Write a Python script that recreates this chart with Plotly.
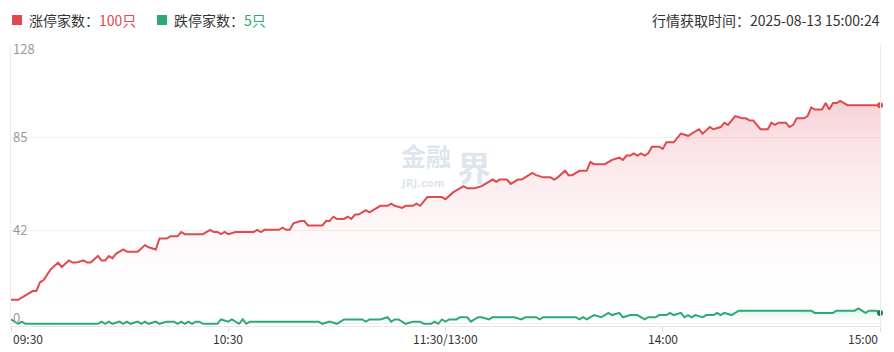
import plotly.graph_objects as go

# ---------------- data (minutes since 09:30 on the trading clock, 0..240) ----------------
red_minute = [0, 2, 4, 6, 7, 8, 9, 11, 13, 14,
              16, 17, 18, 20, 21, 22, 24, 25, 26, 27,
              28, 29, 31, 32, 33, 35, 37, 38, 40, 41,
              43, 44, 46, 47, 48, 53, 55, 56, 57, 58,
              59, 60, 62, 67, 68, 69, 70, 74, 75, 76,
              77, 78, 80, 81, 82, 86, 87, 88, 89, 90,
              92, 93, 94, 95, 96, 98, 99, 101, 102, 104,
              105, 106, 108, 109, 111, 112, 113, 115, 119, 120,
              122, 123, 125, 126, 128, 130, 131, 133, 134, 135,
              137, 138, 140, 141, 142, 144, 145, 147, 149, 150,
              151, 153, 154, 155, 157, 159, 160, 161, 164, 166,
              168, 169, 170, 171, 172, 173, 174, 175, 176, 177,
              179, 180, 181, 183, 185, 187, 190, 191, 193, 194,
              196, 197, 198, 200, 202, 203, 204, 205, 207, 209,
              210, 211, 212, 214, 215, 216, 217, 219, 220, 221,
              222, 224, 225, 226, 227, 228, 229, 231, 240]
red_count = [11, 11, 13, 15, 15, 19, 20, 25, 28, 26,
             29, 28, 28, 29, 28, 28, 31, 29, 29, 31,
             30, 32, 34, 33, 33, 33, 36, 35, 34, 39,
             39, 40, 40, 42, 41, 41, 43, 42, 42, 41,
             42, 41, 42, 42, 43, 42, 43, 43, 44, 43,
             43, 46, 47, 47, 45, 45, 47, 47, 49, 48,
             48, 49, 48, 50, 50, 52, 51, 53, 54, 54,
             55, 54, 53, 54, 54, 55, 54, 58, 58, 57,
             60, 61, 63, 62, 62, 63, 64, 66, 65, 66,
             66, 64, 66, 66, 67, 69, 68, 67, 67, 66,
             67, 70, 68, 68, 70, 70, 74, 73, 73, 75,
             76, 75, 77, 77, 78, 77, 78, 77, 78, 81,
             81, 80, 83, 83, 87, 86, 89, 87, 90, 89,
             90, 92, 91, 95, 94, 94, 93, 93, 89, 89,
             92, 91, 92, 92, 90, 91, 94, 94, 95, 99,
             98, 98, 101, 98, 101, 101, 102, 100, 100]

green_minute = [0, 2, 3, 4, 24, 25, 26, 27, 28, 30,
                31, 32, 33, 35, 36, 37, 38, 40, 41, 43,
                45, 46, 47, 48, 49, 50, 51, 52, 53, 57,
                58, 60, 61, 63, 64, 65, 66, 85, 86, 88,
                90, 92, 97, 98, 99, 102, 104, 105, 106, 107,
                109, 111, 113, 114, 116, 117, 118, 119, 120, 121,
                123, 124, 126, 127, 129, 130, 132, 133, 139, 141,
                142, 145, 146, 147, 156, 157, 158, 159, 161, 163,
                165, 166, 168, 169, 171, 173, 175, 176, 178, 179,
                181, 182, 183, 185, 186, 187, 188, 189, 191, 192,
                194, 195, 196, 197, 199, 201, 221, 222, 227, 228,
                233, 234, 235, 236, 237, 239, 240]
green_count = [2, 0, 1, 0, 0, 1, 0, 1, 0, 1,
               0, 1, 0, 1, 0, 1, 0, 1, 0, 1,
               1, 0, 1, 0, 1, 0, 1, 1, 0, 0,
               2, 1, 2, 0, 2, 0, 1, 1, 0, 1,
               0, 2, 2, 1, 2, 2, 3, 1, 2, 2,
               0, 1, 1, 0, 0, 1, 0, 2, 1, 2,
               2, 3, 3, 1, 3, 3, 2, 3, 3, 2,
               3, 3, 2, 3, 3, 2, 3, 2, 4, 3,
               5, 4, 5, 3, 4, 4, 2, 3, 3, 4,
               4, 5, 4, 5, 3, 4, 3, 4, 3, 4,
               4, 5, 4, 5, 4, 6, 6, 5, 5, 6,
               6, 7, 6, 5, 6, 6, 5]

x_tick_minutes = [0, 60, 120, 180, 240]
x_tick_labels = ["09:30", "10:30", "11:30/13:00", "14:00", "15:00"]
y_tick_values = [0, 42.67, 85.33, 128]
y_tick_labels = ["0", "42", "85", "128"]

limit_up_total = "100只"
limit_down_total = "5只"
quote_time = "行情获取时间：2025-08-13 15:00:24"

# ---------------- styling ----------------
RED = "#e04a4e"
GREEN = "#2daa74"
FONT = "Noto Sans CJK SC"
WM = "rgba(188,203,224,0.5)"

W, H = 894, 352
L, R, T, B = 11, 14, 44, 26
PW, PH = W - L - R, H - T - B


def px(x):
    return (x - L) / PW


def py(y):
    return (H - B - y) / PH


fig = go.Figure()

fig.add_trace(go.Scatter(
    x=red_minute, y=red_count, mode="lines",
    line=dict(color=RED, width=2), fill="tozeroy",
    fillgradient=dict(type="vertical", start=0, stop=max(red_count),
                      colorscale=[[0, "rgba(255,255,255,0)"], [1, "rgba(226,88,108,0.27)"]]),
    hoverinfo="skip", showlegend=False))

fig.add_trace(go.Scatter(
    x=green_minute, y=green_count, mode="lines",
    line=dict(color=GREEN, width=2), fill="tozeroy",
    fillgradient=dict(type="vertical", start=0, stop=max(green_count),
                      colorscale=[[0, "rgba(255,255,255,0)"], [1, "rgba(46,170,116,0.22)"]]),
    hoverinfo="skip", showlegend=False))

fig.add_trace(go.Scatter(x=red_minute[-1:], y=red_count[-1:], mode="markers",
                         marker=dict(color=RED, size=6), hoverinfo="skip",
                         showlegend=False, cliponaxis=False))
fig.add_trace(go.Scatter(x=green_minute[-1:], y=green_count[-1:], mode="markers",
                         marker=dict(color="#1f7d52", size=6), hoverinfo="skip",
                         showlegend=False, cliponaxis=False))

ann = []
# y tick labels (inside plot, left)
y_shifts = [6, 1, 1, -4]
for v, t, s in zip(y_tick_values, y_tick_labels, y_shifts):
    ann.append(dict(x=0, xref="paper", y=v, yref="y", yshift=s, text=t,
                    xanchor="left", yanchor="middle", showarrow=False,
                    font=dict(family=FONT, size=13, color="#9a9a9a")))
# x tick labels
for i, (m, t) in enumerate(zip(x_tick_minutes, x_tick_labels)):
    anchor = "left" if i == 0 else ("right" if i == len(x_tick_minutes) - 1 else "center")
    ann.append(dict(x=m, xref="x", y=py(338), yref="paper", text=t,
                    xanchor=anchor, yanchor="middle", showarrow=False,
                    font=dict(family=FONT, size=12, color="#333333")))

# header legend
ann.append(dict(x=px(27), xref="paper", y=py(20), yref="paper",
                text=f"涨停家数：<span style='color:{RED}'>{limit_up_total}</span>",
                xanchor="left", yanchor="middle", showarrow=False,
                font=dict(family=FONT, size=14, color="#333333")))
ann.append(dict(x=px(172), xref="paper", y=py(20), yref="paper",
                text=f"跌停家数：<span style='color:{GREEN}'>{limit_down_total}</span>",
                xanchor="left", yanchor="middle", showarrow=False,
                font=dict(family=FONT, size=14, color="#333333")))
ann.append(dict(x=px(882), xref="paper", y=py(20), yref="paper",
                text=quote_time, xanchor="right", yanchor="middle", showarrow=False,
                font=dict(family=FONT, size=14, color="#333333")))

# watermark
ann.append(dict(x=px(426), xref="paper", y=py(155), yref="paper",
                text="<b>金融</b>", xanchor="center", yanchor="middle", showarrow=False,
                font=dict(family=FONT, size=25, color=WM)))
ann.append(dict(x=px(474), xref="paper", y=py(166), yref="paper",
                text="<b>界</b>", xanchor="center", yanchor="middle", showarrow=False,
                font=dict(family=FONT, size=34, color=WM)))
ann.append(dict(x=px(422), xref="paper", y=py(183), yref="paper",
                text="<b>JRJ.com</b>", xanchor="center", yanchor="middle", showarrow=False,
                font=dict(family="DejaVu Sans", size=10, color=WM)))

shapes = [
    dict(type="rect", xref="paper", yref="paper", x0=px(12), x1=px(22), y0=py(25), y1=py(15),
         fillcolor=RED, line=dict(width=0)),
    dict(type="rect", xref="paper", yref="paper", x0=px(157), x1=px(167), y0=py(25), y1=py(15),
         fillcolor=GREEN, line=dict(width=0)),
]

fig.update_layout(
    width=W, height=H,
    margin=dict(l=L, r=R, t=T, b=B, pad=0),
    paper_bgcolor="white", plot_bgcolor="white",
    annotations=ann, shapes=shapes,
    xaxis=dict(range=[0, 240], tickvals=x_tick_minutes, showticklabels=False,
               ticks="outside", ticklen=5, tickcolor="#dddddd",
               showgrid=False, zeroline=False, showline=True, linecolor="#e6e6e6",
               fixedrange=True),
    yaxis=dict(range=[-1, 128], tickvals=y_tick_values, showticklabels=False,
               showgrid=True, gridcolor="#f0f0f0", zeroline=False,
               showline=True, linecolor="#ececec", mirror=True, fixedrange=True),
    font=dict(family=FONT),
)

fig.write_html("out.html")
